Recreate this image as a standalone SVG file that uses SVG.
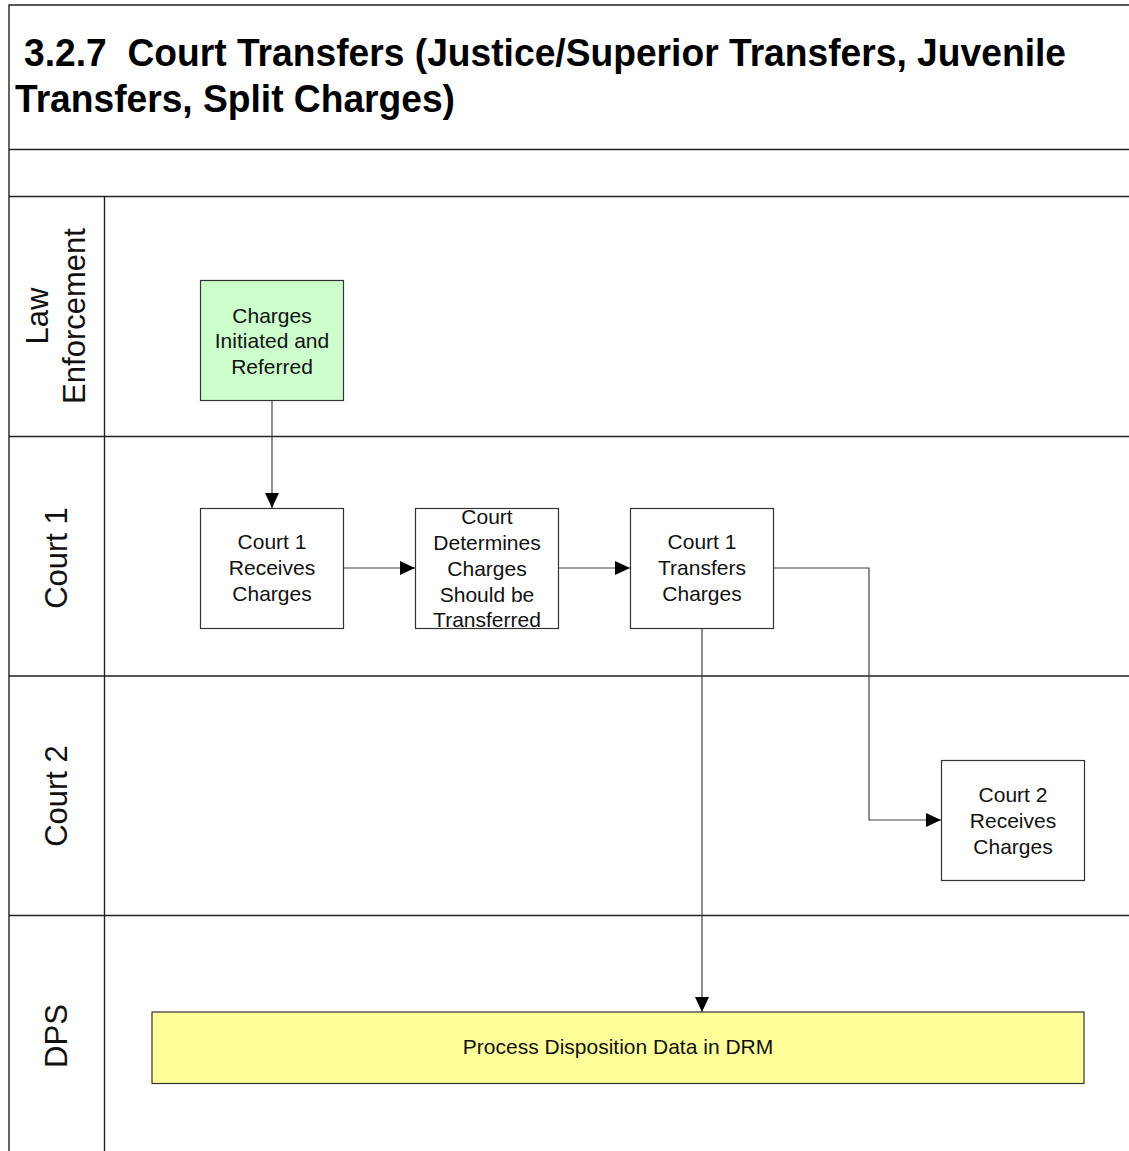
<svg xmlns="http://www.w3.org/2000/svg" width="1129" height="1151" viewBox="0 0 1129 1151">
<style>
.frame{stroke:#222;stroke-width:1.4;fill:none}
.box{fill:#fff;stroke:#333;stroke-width:1.2}
.green{fill:#ccffcc}
.yellow{fill:#ffff99}
.t{font-family:"Liberation Sans",Arial,sans-serif;font-size:21px;fill:#111;text-anchor:middle}
.lane{font-family:"Liberation Sans",Arial,sans-serif;font-size:31px;fill:#111;text-anchor:middle}
.title{font-family:"Liberation Sans",Arial,sans-serif;font-size:38px;font-weight:bold;fill:#000}
.conn{stroke:#444;stroke-width:1.2;fill:none}
</style>
<defs>
<marker id="arr" markerUnits="userSpaceOnUse" markerWidth="15" markerHeight="14" refX="15" refY="7" orient="auto">
<path d="M0,0 L15,7 L0,14 Z" fill="#000"/>
</marker>
</defs>
<rect width="1129" height="1151" fill="#fff"/>
<g id="frame">
<path class="frame" d="M9,1151 V5 H1129"/>
<path class="frame" d="M9,149.5 H1129 M9,196.5 H1129 M104.5,196.5 V1151 M9,436.5 H1129 M9,676 H1129 M9,915.5 H1129"/>
</g>
<g id="title">
<text class="title" x="24" y="66" textLength="1042" lengthAdjust="spacingAndGlyphs" xml:space="preserve">3.2.7  Court Transfers (Justice/Superior Transfers, Juvenile</text>
<text class="title" x="15" y="112" textLength="440" lengthAdjust="spacingAndGlyphs">Transfers, Split Charges)</text>
</g>
<g id="lanes">
<g id="lane-law"><text class="lane" transform="translate(48,316) rotate(-90)">Law</text><text class="lane" transform="translate(85,316) rotate(-90)">Enforcement</text></g>
<g id="lane-court1"><text class="lane" transform="translate(67,558) rotate(-90)">Court 1</text></g>
<g id="lane-court2"><text class="lane" transform="translate(67,796) rotate(-90)">Court 2</text></g>
<g id="lane-dps"><text class="lane" transform="translate(67,1036) rotate(-90)">DPS</text></g>
</g>
<g id="connectors">
<path class="conn" d="M272,400.5 V508" marker-end="url(#arr)"/>
<path class="conn" d="M343.5,568 H415" marker-end="url(#arr)"/>
<path class="conn" d="M558.5,568 H630" marker-end="url(#arr)"/>
<path class="conn" d="M774,568 H869 V820 H941" marker-end="url(#arr)"/>
<path class="conn" d="M702,628 V1012" marker-end="url(#arr)"/>
</g>
<g id="n1"><rect class="box green" x="200.5" y="280.5" width="143" height="120"/>
<text class="t" x="272" y="323">Charges</text><text class="t" x="272" y="348">Initiated and</text><text class="t" x="272" y="374">Referred</text></g>
<g id="n2"><rect class="box" x="200.5" y="508.5" width="143" height="120"/>
<text class="t" x="272" y="549">Court 1</text><text class="t" x="272" y="575">Receives</text><text class="t" x="272" y="601">Charges</text></g>
<g id="n3"><rect class="box" x="415.5" y="508.5" width="143" height="120"/>
<text class="t" x="487" y="524">Court</text><text class="t" x="487" y="550">Determines</text><text class="t" x="487" y="576">Charges</text><text class="t" x="487" y="602">Should be</text><text class="t" x="487" y="627">Transferred</text></g>
<g id="n4"><rect class="box" x="630.5" y="508.5" width="143" height="120"/>
<text class="t" x="702" y="549">Court 1</text><text class="t" x="702" y="575">Transfers</text><text class="t" x="702" y="601">Charges</text></g>
<g id="n5"><rect class="box" x="941.5" y="760.5" width="143" height="120"/>
<text class="t" x="1013" y="802">Court 2</text><text class="t" x="1013" y="828">Receives</text><text class="t" x="1013" y="854">Charges</text></g>
<g id="n6"><rect class="box yellow" x="152" y="1012" width="932" height="71.5"/>
<text class="t" x="618" y="1054">Process Disposition Data in DRM</text></g>
</svg>
